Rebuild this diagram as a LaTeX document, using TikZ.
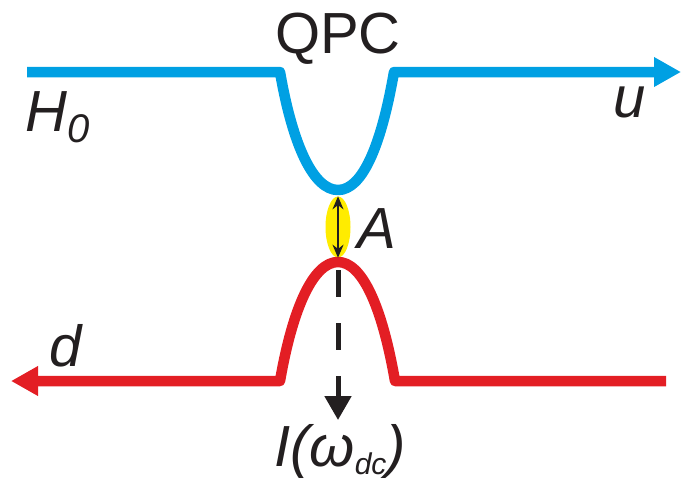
\documentclass[tikz,border=0pt]{standalone}
\usepackage{fontspec}
\setmainfont{Liberation Sans}
\usetikzlibrary{arrows.meta,shapes.geometric}

\definecolor{upblue}{RGB}{0,160,227}
\definecolor{downred}{RGB}{227,30,36}
\definecolor{glow}{RGB}{255,236,0}
\definecolor{ink}{RGB}{35,31,32}

\begin{document}
\begin{tikzpicture}[x=1pt, y=-1pt,
        edgeline/.style={line width=10.5pt, line join=round},
        gapnode/.style={ellipse, fill=glow, minimum width=25pt, minimum height=61pt, inner sep=0pt},
        gaparrow/.style={{Stealth[width=11pt,length=13pt]}-{Stealth[width=11pt,length=13pt]}, line width=2pt, ink},
        outarrow/.style={-{Triangle[width=26pt,length=24pt]}, line width=5pt, ink, dash pattern=on 27pt off 26pt},
        lbl/.style={font=\fontsize{58}{58}\selectfont, text=ink, inner sep=0pt},
        ]
                \useasboundingbox (0,0) rectangle (683,480);

                % upper edge channel (u)
                \coordinate (uin)  at (27,72);
                \coordinate (uL)   at (280,72);
                \coordinate (ubot) at (338,190);
                \coordinate (uR)   at (394,72);
                \coordinate (uout) at (681,72);

                % lower edge channel (d)
                \coordinate (din)  at (666,381);
                \coordinate (dR)   at (395,381);
                \coordinate (dtop) at (338,262);
                \coordinate (dL)   at (280,381);
                \coordinate (dout) at (11,381);

                \coordinate (iout) at (338,420);

                \node[gapnode]  at(338,227) (gap) {};

                \draw[outarrow, shorten <=8pt] (dtop) -- (iout);

                \draw[edgeline, upblue, -{Triangle[width=28pt,length=27pt]}] (uin) -- (uL)
                        .. controls +(13,75) and +(-24,0) .. (ubot)
                        .. controls +(24,0) and +(-13,75) .. (uR) -- (uout);
                \draw[edgeline, downred, -{Triangle[width=28pt,length=27pt]}] (din) -- (dR)
                        .. controls +(-13,-75) and +(24,0) .. (dtop)
                        .. controls +(-24,0) and +(13,-75) .. (dL) -- (dout);

                \draw[gaparrow] (gap.north) -- (gap.south);

                \node[lbl, anchor=base] at(338,53) (qpc) {QPC};
                \node[lbl, anchor=base west] at(25,131) (h0) {\itshape H\raisebox{-11pt}{\fontsize{40}{40}\selectfont 0}};
                \node[lbl, anchor=base] at(630,117) (u) {\itshape u};
                \node[lbl, anchor=base] at(66,366) (d) {\itshape d};
                \node[lbl, anchor=base] at(377,248) (a) {\itshape A};
                \node[lbl, anchor=base west] at(274,466) (iw) {\itshape I(ω\raisebox{-8pt}{\fontsize{30}{30}\selectfont dc})};

            \end{tikzpicture}
\end{document}
